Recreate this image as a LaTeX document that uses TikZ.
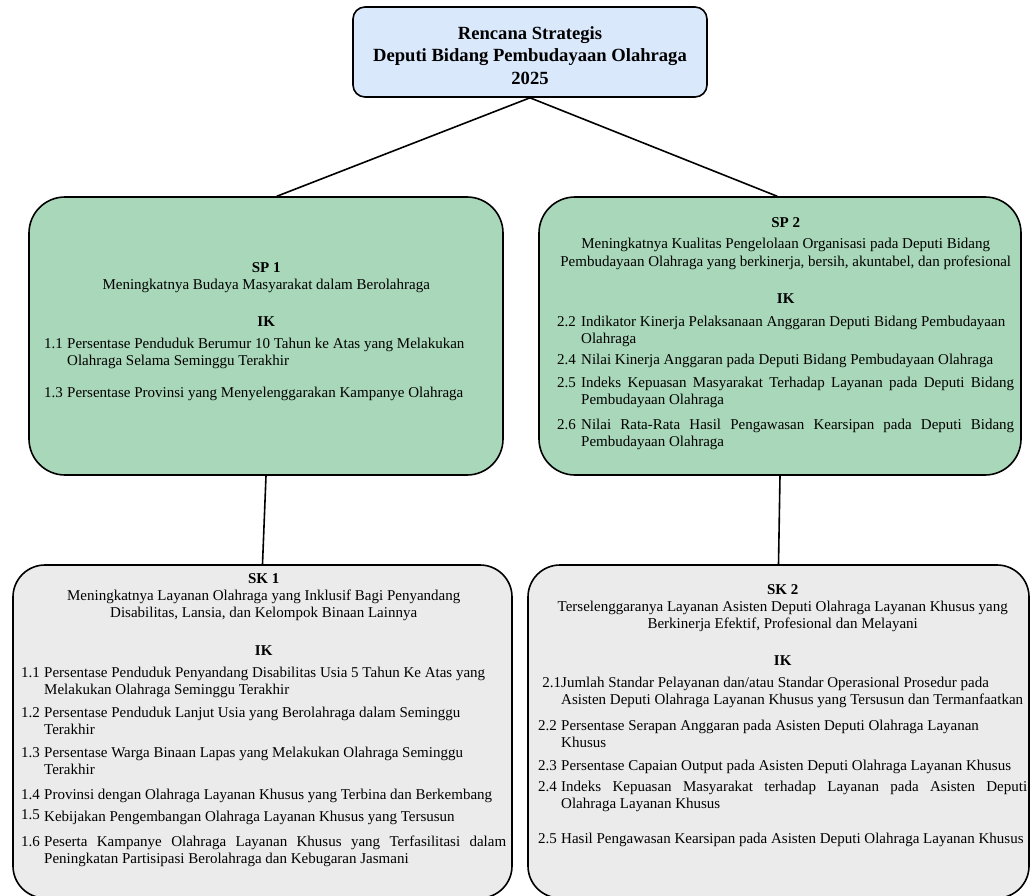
\documentclass[tikz,border=0pt]{standalone}
\usepackage{fontspec}
\setmainfont{Liberation Serif}
\usepackage{tikz}
\usetikzlibrary{positioning}

\definecolor{birumuda}{HTML}{DAE8FC}
\definecolor{hijaumuda}{HTML}{A9D7B9}
\definecolor{abumuda}{HTML}{EBEBEB}

\hyphenpenalty=10000
\tolerance=9999
\newlength{\ikind}
\setlength{\ikind}{23pt}
\newcommand{\ikrow}[3][5pt]{\par\vspace{#1}\noindent\hangindent=\ikind\hangafter=1\makebox[\ikind][l]{#2}#3\par}
\newcommand{\ikjudul}[3][0pt]{{\centering\textbf{#2}\\[#1]#3\par}}
\newcommand{\ikkepala}[1][20pt]{\vspace{#1}{\centering\textbf{IK}\par}}

\begin{document}
\begin{tikzpicture}[line cap=round,line join=round,x=1pt,y=1pt,
    kotak/.style={draw=black,line width=1.6pt,inner sep=0pt},
    garis/.style={draw=black,line width=1.6pt},
    judul/.style={inner sep=0pt,align=center,font=\fontsize{18.6}{22.5}\selectfont\bfseries},
    isi/.style={anchor=north west,inner sep=0pt,align=justify,font=\fontsize{15}{17}\selectfont}]
        \clip(0,-896) rectangle (1030,0);
        % kotak
        \node[kotak,fill=birumuda,rounded corners=12pt,minimum width=354pt,minimum height=90pt] (rensra) at (530,-52) {};
        \node[kotak,fill=hijaumuda,rounded corners=36pt,minimum width=474pt,minimum height=278pt] (sp1) at (266,-336) {};
        \node[kotak,fill=hijaumuda,rounded corners=36pt,minimum width=482pt,minimum height=278pt] (sp2) at (780,-336) {};
        \node[kotak,fill=abumuda,rounded corners=32pt,minimum width=499pt,minimum height=333pt] (sk1) at (262.5,-731.5) {};
        \node[kotak,fill=abumuda,rounded corners=32pt,minimum width=501pt,minimum height=333pt] (sk2) at (778.5,-731.5) {};
        % garis penghubung
        \draw[garis] (rensra.south) -- ([xshift=11pt]sp1.north);
        \draw[garis] (rensra.south) -- ([xshift=-3pt]sp2.north);
        \draw[garis] (sp1.south) -- (sk1.north);
        \draw[garis] (sp2.south) -- (sk2.north);
        % isi
        \node[judul] (rensraisi) at ([yshift=-3.5pt]rensra.center) {Rencana Strategis\\Deputi Bidang Pembudayaan Olahraga\\2025};
        \node[isi,text width=444pt] (sp1isi) at (44,-262) {%
            \ikjudul{SP 1}{Meningkatnya Budaya Masyarakat dalam Berolahraga}
            \ikkepala
            \ikrow{1.1}{Persentase Penduduk Berumur 10 Tahun ke Atas yang Melakukan\\Olahraga Selama Seminggu Terakhir}
            \ikrow[15pt]{1.3}{Persentase Provinsi yang Menyelenggarakan Kampanye Olahraga}};
        \node[isi,text width=457pt] (sp2isi) at (557,-217) {\setlength{\ikind}{24pt}%
            \ikjudul[4pt]{SP 2}{Meningkatnya Kualitas Pengelolaan Organisasi pada Deputi Bidang\\[1pt]Pembudayaan Olahraga yang berkinerja, bersih, akuntabel, dan profesional}
            \ikkepala
            \ikrow[6pt]{2.2}{Indikator Kinerja Pelaksanaan Anggaran Deputi Bidang Pembudayaan\\Olahraga}
            \ikrow[4pt]{2.4}{Nilai Kinerja Anggaran pada Deputi Bidang Pembudayaan Olahraga}
            \ikrow[6pt]{2.5}{Indeks Kepuasan Masyarakat Terhadap Layanan pada Deputi Bidang\linebreak Pembudayaan Olahraga}
            \ikrow[8pt]{2.6}{Nilai Rata-Rata Hasil Pengawasan Kearsipan pada Deputi Bidang\linebreak Pembudayaan Olahraga}};
        \node[isi,text width=485pt] (sk1isi) at (21,-573) {%
            \ikjudul{SK 1}{Meningkatnya Layanan Olahraga yang Inklusif Bagi Penyandang\\Disabilitas, Lansia, dan Kelompok Binaan Lainnya}
            \ikkepala[21pt]
            \ikrow{1.1}{Persentase Penduduk Penyandang Disabilitas Usia 5 Tahun Ke Atas yang\\Melakukan Olahraga Seminggu Terakhir}
            \ikrow[6pt]{1.2}{Persentase Penduduk Lanjut Usia yang Berolahraga dalam Seminggu\\Terakhir}
            \ikrow[6pt]{1.3}{Persentase Warga Binaan Lapas yang Melakukan Olahraga Seminggu\\Terakhir}
            \ikrow[8pt]{1.4}{Provinsi dengan Olahraga Layanan Khusus yang Terbina dan Berkembang}
            \ikrow[5pt]{\raisebox{2pt}{1.5}}{Kebijakan Pengembangan Olahraga Layanan Khusus yang Tersusun}
            \ikrow[8pt]{1.6}{Peserta Kampanye Olahraga Layanan Khusus yang Terfasilitasi dalam\linebreak Peningkatan Partisipasi Berolahraga dan Kebugaran Jasmani}};
        \node[isi,text width=489pt] (sk2isi) at (538,-584) {%
            \ikjudul{SK 2}{Terselenggaranya Layanan Asisten Deputi Olahraga Layanan Khusus yang\\Berkinerja Efektif, Profesional dan Melayani}
            \ikkepala
            \ikrow{\hfill 2.1}{Jumlah Standar Pelayanan dan/atau Standar Operasional Prosedur pada\\Asisten Deputi Olahraga Layanan Khusus yang Tersusun dan Termanfaatkan}
            \ikrow[9pt]{2.2}{Persentase Serapan Anggaran pada Asisten Deputi Olahraga Layanan\\Khusus}
            \ikrow[6pt]{2.3}{Persentase Capaian Output pada Asisten Deputi Olahraga Layanan Khusus}
            \ikrow[4pt]{2.4}{Indeks Kepuasan Masyarakat terhadap Layanan pada Asisten Deputi\linebreak Olahraga Layanan Khusus}
            \ikrow[18pt]{2.5}{Hasil Pengawasan Kearsipan pada Asisten Deputi Olahraga Layanan Khusus}};
\end{tikzpicture}
\end{document}
